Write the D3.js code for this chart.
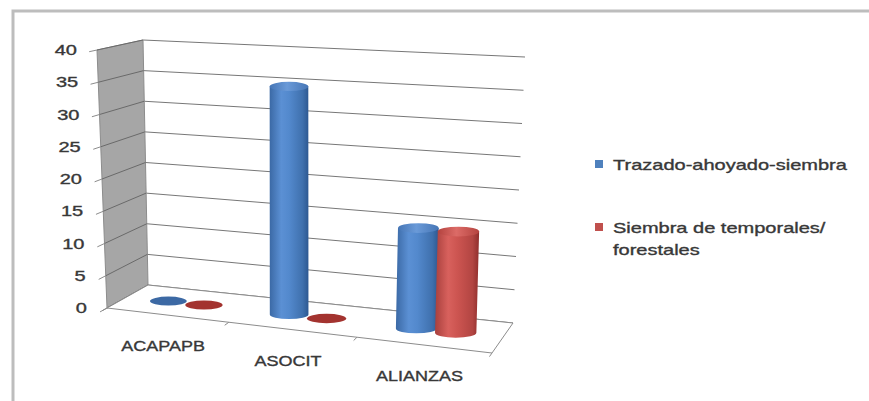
<!DOCTYPE html>
<html><head><meta charset="utf-8">
<script src="https://cdn.jsdelivr.net/npm/d3@7"></script>
<style>body{margin:0;background:#fff}svg{display:block}</style>
</head><body><svg id="c" width="869" height="401"></svg>
<script>
// ---- data ----
const categories = ["ACAPAPB", "ASOCIT", "ALIANZAS"];
const trazado = [0, 35, 15];
const siembra = [0, 0, 15];
const yTicks = [0, 5, 10, 15, 20, 25, 30, 35, 40];
const seriesLabels = [["Trazado-ahoyado-siembra"], ["Siembra de temporales/", "forestales"]];
const seriesValues = [trazado, siembra];

// ---- styles ----
const FONT = "'Liberation Sans', Arial, sans-serif";
const TEXT_COL = "#383838";
const body = [
  [["0", "#3b69a5"], ["0.3", "#5b90d4"], ["0.5", "#5389cd"], ["0.85", "#3f70ad"], ["1", "#2d5891"]],
  [["0", "#a8403d"], ["0.3", "#d8615d"], ["0.5", "#cd5551"], ["0.85", "#b24542"], ["1", "#8f2e2c"]]
];
const cap = [
  [["0", "#4676b6"], ["0.45", "#6a9ad8"], ["1", "#4676b6"]],
  [["0", "#b4433f"], ["0.45", "#dc6b67"], ["1", "#b4433f"]]
];
const flat = ["#3c69a4", "#a3332f"];
const legendCol = ["#4F81BD", "#C0504D"];

const svg = d3.select("#c");

// ---- 3D box frame (screen corners of the plot box) ----
const box = {
  FLB: [107, 308], FLT: [97, 50], BLB: [148, 285], BLT: [143, 40],
  FRB: [492, 353], FRT: [499, 74], BRB: [513, 323], BRT: [525, 57]
};
const depthRatio = 1.08; // perspective foreshortening along category axis
const persp = u => u / ((1 - u) * depthRatio + u);
const lerp = (a, b, t) => [a[0] + (b[0] - a[0]) * t, a[1] + (b[1] - a[1]) * t];

const yScale = d3.scaleLinear().domain([0, 40]).range([0, 1]);
const xBand = d3.scaleBand().domain(categories).range([0, 1]);
const xSeries = d3.scaleBand().domain([0, 1]).range([-0.1, 0.1]);

function P(u, d, t) {
  const s = persp(u);
  const bf = lerp(box.FLB, box.FRB, s), bb = lerp(box.BLB, box.BRB, s);
  const tf = lerp(box.FLT, box.FRT, s), tb = lerp(box.BLT, box.BRT, s);
  return lerp(lerp(bf, bb, d), lerp(tf, tb, d), t);
}

// ---- gradients ----
const defs = svg.append("defs");
function grad(id, stops) {
  const g = defs.append("linearGradient").attr("id", id)
    .attr("x1", 0).attr("x2", 1).attr("y1", 0).attr("y2", 0);
  stops.forEach(s => g.append("stop").attr("offset", s[0]).attr("stop-color", s[1]));
}
body.forEach((s, i) => grad("b" + i, s));
cap.forEach((s, i) => grad("c" + i, s));

// ---- outer frame ----
svg.append("rect").attr("x", 13).attr("y", 11).attr("width", 900).attr("height", 450)
  .attr("fill", "none").attr("stroke", "#bdbdbd").attr("stroke-width", 3);

// ---- text stretch (source chart text is horizontally stretched) ----
const probe = svg.append("text").attr("font-family", FONT).attr("font-size", 14.5).text(seriesLabels[0][0]);
const S = 234 / probe.node().getComputedTextLength();
probe.remove();
function stext(g, x, y, str, size, anchor, sx) {
  return g.append("text").attr("transform", `translate(${x},${y}) scale(${sx || S},1)`)
    .attr("font-family", FONT).attr("font-size", size).attr("fill", TEXT_COL)
    .attr("stroke", TEXT_COL).attr("stroke-width", 0.35)
    .attr("text-anchor", anchor || "start").text(str);
}

const line = (a, b) => svg.append("line").attr("x1", a[0]).attr("y1", a[1]).attr("x2", b[0]).attr("y2", b[1]);

// ---- back wall gridlines ----
yTicks.forEach(v => {
  line(P(0, 1, yScale(v)), P(1, 1, yScale(v))).attr("stroke", "#777").attr("stroke-width", 1);
});

// ---- side wall ----
svg.append("polygon")
  .attr("points", [P(0, 0, 0), P(0, 0, 1), P(0, 1, 1), P(0, 1, 0)].map(p => p.join(",")).join(" "))
  .attr("fill", "#a6a6a6").attr("stroke", "#8c8c8c").attr("stroke-width", 1);
yTicks.forEach(v => {
  line(P(0, 0, yScale(v)), P(0, 1, yScale(v))).attr("stroke", "#6a6a6a").attr("stroke-width", 1);
  line(P(0, 0, yScale(v)), P(0, -0.17, yScale(v))).attr("stroke", "#8c8c8c").attr("stroke-width", 1);
});

// ---- floor ----
svg.append("polygon")
  .attr("points", [P(0, 0, 0), P(0, 1, 0), P(1, 1, 0), P(1, 0, 0)].map(p => p.join(",")).join(" "))
  .attr("fill", "#fff").attr("stroke", "#8c8c8c").attr("stroke-width", 1);
[0, 1, 2, 3].forEach(i => {
  const u = i / categories.length;
  line(P(u, 0, 0), P(u, -0.12, 0)).attr("stroke", "#8c8c8c").attr("stroke-width", 1);
});

// ---- axis labels ----
const gl = svg.append("g");
yTicks.forEach(v => {
  const p = P(0, 0, yScale(v));
  stext(gl, p[0] - 20, p[1] + 5, String(v), 14.5, "end");
});
categories.forEach(c => {
  const p = P(xBand(c) + xBand.bandwidth() / 2, 0, 0);
  stext(gl, p[0] - 4, p[1] + 36, c, 14.5, "middle", S * 0.9);
});

// ---- cylinders ----
const r = 0.052;
categories.forEach((c, ci) => {
  seriesValues.forEach((vals, si) => {
    const v = vals[ci];
    const uc = xBand(c) + xBand.bandwidth() / 2 + xSeries(si) + xSeries.bandwidth() / 2;
    const b = P(uc, 0.5, 0), t = P(uc, 0.5, yScale(v));
    const rx = (P(uc + r, 0.5, 0)[0] - P(uc - r, 0.5, 0)[0]) / 2;
    const ry = rx * 0.24;
    if (v === 0) {
      svg.append("ellipse").attr("cx", b[0]).attr("cy", b[1]).attr("rx", rx).attr("ry", ry)
        .attr("fill", flat[si]);
    } else {
      svg.append("path")
        .attr("d", `M${b[0] - rx},${b[1]} L${t[0] - rx},${t[1]} L${t[0] + rx},${t[1]} L${b[0] + rx},${b[1]} A${rx},${ry} 0 0 1 ${b[0] - rx},${b[1]} Z`)
        .attr("fill", `url(#b${si})`);
      svg.append("ellipse").attr("cx", t[0]).attr("cy", t[1]).attr("rx", rx).attr("ry", ry)
        .attr("fill", `url(#c${si})`);
    }
  });
});

// ---- legend ----
const lg = svg.append("g");
const legendY = [160, 223];
seriesLabels.forEach((lines, i) => {
  lg.append("rect").attr("x", 595).attr("y", legendY[i]).attr("width", 8).attr("height", 8)
    .attr("fill", legendCol[i]);
  lines.forEach((str, j) => stext(lg, 613, legendY[i] + 10 + j * 22, str, 14.5, "start"));
});
</script>
</body></html>
